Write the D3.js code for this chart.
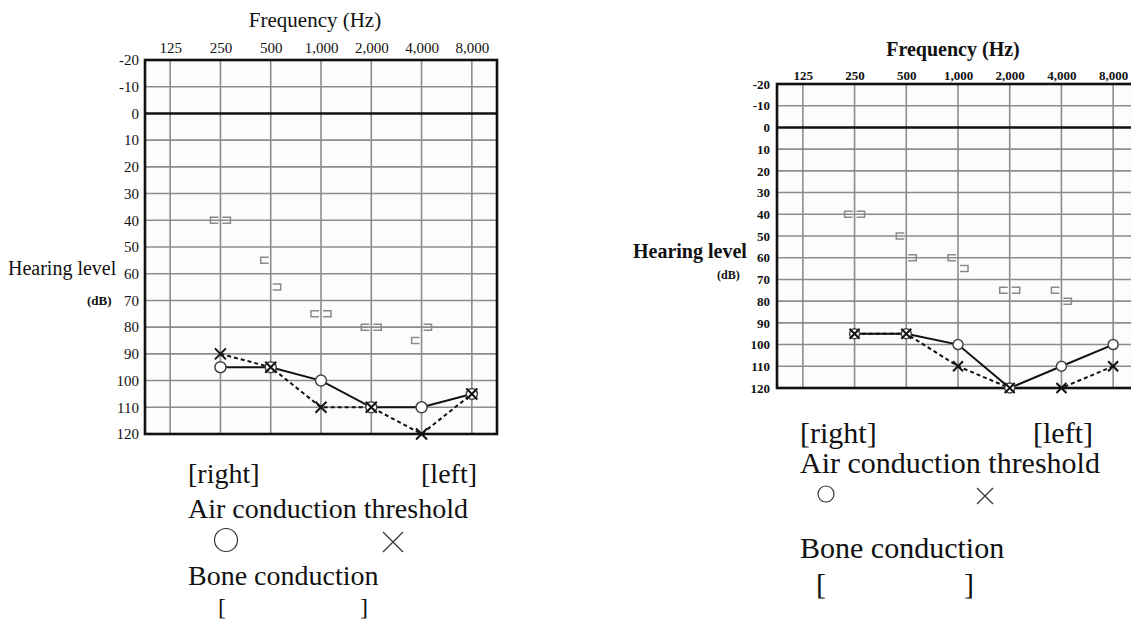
<!DOCTYPE html>
<html>
<head>
<meta charset="utf-8">
<script src="https://cdn.jsdelivr.net/npm/d3@7"></script>
<style>
  body { margin: 0; background: #fff; }
  svg { display: block; }
</style>
</head>
<body>
<svg id="viz"></svg>
<script>
// frequency columns and hearing level ticks
const freqs = ["125", "250", "500", "1,000", "2,000", "4,000", "8,000"];
const dbTicks = [-20, -10, 0, 10, 20, 30, 40, 50, 60, 70, 80, 90, 100, 110, 120];

// left audiogram (values in dB, null = not measured)
const airRightA = [null, 95, 95, 100, 110, 110, 105];
const airLeftA = [null, 90, 95, 110, 110, 120, 105];
const boneRightA = [null, 40, 55, 75, 80, 85, null];
const boneLeftA = [null, 40, 65, 75, 80, 80, null];

// right audiogram
const airRightB = [null, 95, 95, 100, 120, 110, 100];
const airLeftB = [null, 95, 95, 110, 120, 120, 110];
const boneRightB = [null, 40, 50, 60, 75, 75, null];
const boneLeftB = [null, 40, 60, 65, 75, 80, null];

const app = {
    init() {
        this.svg = d3.select("#viz").attr("width", 1131).attr("height", 619);

        this.drawChart({
            left: 145, right: 497, top: 60, bottom: 434,
            font: "'Liberation Serif', 'Times New Roman', serif", weight: "normal",
            titleX: 315, titleSize: 21, titleY: 27, tickSize: 15, tickY: 53, ySize: 15, yLabelX: 139,
            hl: {x: 8, y: 275, size: 20}, db: {x: 87, y: 305, size: 13},
            r: 5.5, xs: 5.5, grid: "#8c8c8c"
        }, airRightA, airLeftA, boneRightA, boneLeftA);

        this.drawChart({
            left: 777, right: 1139, top: 84, bottom: 388,
            font: "'Liberation Serif', 'Times New Roman', serif", weight: "bold",
            titleX: 953, titleSize: 20, titleY: 56, tickSize: 13, tickY: 80, ySize: 13, yLabelX: 770,
            hl: {x: 633, y: 258, size: 20}, db: {x: 717, y: 279, size: 12},
            r: 5, xs: 5, grid: "#8c8c8c"
        }, airRightB, airLeftB, boneRightB, boneLeftB);

        this.drawLegend({x: 188, rightEnd: 477, size: 28, y1: 483, y2: 518, y3: 585, y4: 615, bsize: 24,
            cx: 226, cy: 540, cr: 11.5, xx: 393, xy: 542, xh: 10, b1: 218, b2: 360});
        this.drawLegend({x: 800, rightEnd: 1093, size: 30, y1: 443, y2: 473, y3: 558, y4: 594, bsize: 30,
            cx: 826, cy: 494, cr: 8, xx: 985, xy: 496, xh: 8, b1: 816, b2: 964});
    },

    drawChart(c, airRight, airLeft, boneRight, boneLeft) {
        const svg = this.svg;
        const g = svg.append("g");
        const x = d3.scalePoint().domain(freqs).range([c.left, c.right]).padding(0.5);
        const y = d3.scaleLinear().domain([-20, 120]).range([c.top, c.bottom]);

        g.append("rect").attr("x", c.left).attr("y", c.top)
            .attr("width", c.right - c.left).attr("height", c.bottom - c.top).attr("fill", "#fcfcfc");

        // grid
        g.append("g").selectAll("line").data(freqs).join("line")
            .attr("x1", d => x(d)).attr("x2", d => x(d)).attr("y1", c.top).attr("y2", c.bottom)
            .attr("stroke", c.grid).attr("stroke-width", 1.6);
        g.append("g").selectAll("line").data(dbTicks.slice(1, -1)).join("line")
            .attr("x1", c.left).attr("x2", c.right).attr("y1", d => y(d)).attr("y2", d => y(d))
            .attr("stroke", d => d === 0 ? "#111" : c.grid).attr("stroke-width", d => d === 0 ? 2.6 : 1.6);
        g.append("rect").attr("x", c.left).attr("y", c.top)
            .attr("width", c.right - c.left).attr("height", c.bottom - c.top)
            .attr("fill", "none").attr("stroke", "#111").attr("stroke-width", 2.6);

        // axes labels
        const top = g.append("g").attr("transform", `translate(0, ${c.tickY})`)
            .call(d3.axisTop(x).tickSize(0).tickPadding(0));
        top.select(".domain").remove();
        top.selectAll("text").attr("font-family", c.font).attr("font-weight", c.weight)
            .attr("font-size", c.tickSize).attr("fill", "#111");

        const left = g.append("g").attr("transform", `translate(${c.yLabelX}, 0)`)
            .call(d3.axisLeft(y).tickValues(dbTicks).tickFormat(d => String(d)).tickSize(0).tickPadding(0));
        left.select(".domain").remove();
        left.selectAll("text").attr("font-family", c.font).attr("font-weight", c.weight)
            .attr("font-size", c.ySize).attr("fill", "#111");

        g.append("text").attr("x", c.titleX).attr("y", c.titleY).attr("text-anchor", "middle")
            .attr("font-family", c.font).attr("font-weight", c.weight).attr("font-size", c.titleSize)
            .attr("fill", "#111").text("Frequency (Hz)");
        g.append("text").attr("x", c.hl.x).attr("y", c.hl.y)
            .attr("font-family", c.font).attr("font-weight", c.weight).attr("font-size", c.hl.size)
            .attr("fill", "#111").text("Hearing level");
        g.append("text").attr("x", c.db.x).attr("y", c.db.y)
            .attr("font-family", c.font).attr("font-weight", "bold").attr("font-size", c.db.size)
            .attr("fill", "#111").text("(dB)");

        // bone conduction brackets
        const br = freqs.map((f, i) => ({f, v: boneRight[i]})).filter(d => d.v != null);
        const bl = freqs.map((f, i) => ({f, v: boneLeft[i]})).filter(d => d.v != null);
        g.append("g").selectAll("path").data(br).join("path")
            .attr("d", d => `M${x(d.f) - 2},${y(d.v) - 3}H${x(d.f) - 10}V${y(d.v) + 3}H${x(d.f) - 2}`)
            .attr("fill", "none").attr("stroke", "#8a8a8a").attr("stroke-width", 1.5);
        g.append("g").selectAll("path").data(bl).join("path")
            .attr("d", d => `M${x(d.f) + 2},${y(d.v) - 3}H${x(d.f) + 10}V${y(d.v) + 3}H${x(d.f) + 2}`)
            .attr("fill", "none").attr("stroke", "#8a8a8a").attr("stroke-width", 1.5);

        // air conduction lines
        const ar = freqs.map((f, i) => ({f, v: airRight[i]})).filter(d => d.v != null);
        const al = freqs.map((f, i) => ({f, v: airLeft[i]})).filter(d => d.v != null);
        const line = d3.line().x(d => x(d.f)).y(d => y(d.v));
        g.append("path").datum(al).attr("d", line).attr("fill", "none")
            .attr("stroke", "#111").attr("stroke-width", 2).attr("stroke-dasharray", "4,3");
        g.append("path").datum(ar).attr("d", line).attr("fill", "none")
            .attr("stroke", "#111").attr("stroke-width", 2);

        g.append("g").selectAll("circle").data(ar).join("circle")
            .attr("cx", d => x(d.f)).attr("cy", d => y(d.v)).attr("r", c.r)
            .attr("fill", "#fff").attr("stroke", "#444").attr("stroke-width", 1.5);
        const s = c.xs;
        g.append("g").selectAll("path").data(al).join("path")
            .attr("d", d => `M${x(d.f) - s},${y(d.v) - s}L${x(d.f) + s},${y(d.v) + s}M${x(d.f) - s},${y(d.v) + s}L${x(d.f) + s},${y(d.v) - s}`)
            .attr("stroke", "#111").attr("stroke-width", 2);
    },

    drawLegend(l) {
        const g = this.svg.append("g")
            .attr("font-family", "'Liberation Serif', 'Times New Roman', serif")
            .attr("font-size", l.size).attr("fill", "#111");
        g.append("text").attr("x", l.x).attr("y", l.y1).text("[right]");
        g.append("text").attr("x", l.rightEnd).attr("y", l.y1).attr("text-anchor", "end").text("[left]");
        g.append("text").attr("x", l.x).attr("y", l.y2).text("Air conduction threshold");
        g.append("circle").attr("cx", l.cx).attr("cy", l.cy).attr("r", l.cr)
            .attr("fill", "none").attr("stroke", "#333").attr("stroke-width", 1.2);
        g.append("path")
            .attr("d", `M${l.xx - l.xh},${l.xy - l.xh}L${l.xx + l.xh},${l.xy + l.xh}M${l.xx - l.xh},${l.xy + l.xh}L${l.xx + l.xh},${l.xy - l.xh}`)
            .attr("stroke", "#333").attr("stroke-width", 1.2);
        g.append("text").attr("x", l.x).attr("y", l.y3).text("Bone conduction");
        g.append("text").attr("x", l.b1).attr("y", l.y4).attr("font-size", l.bsize).text("[");
        g.append("text").attr("x", l.b2).attr("y", l.y4).attr("font-size", l.bsize).text("]");
    }
}

window.addEventListener("DOMContentLoaded", () => app.init())
</script>
</body>
</html>
